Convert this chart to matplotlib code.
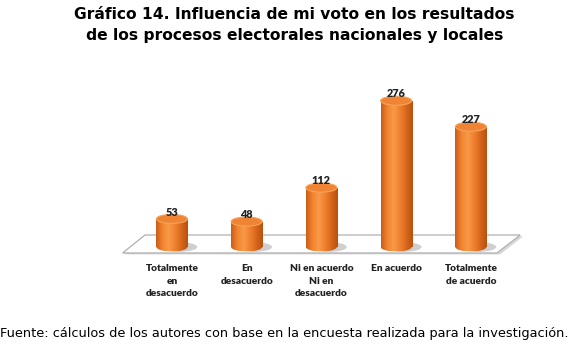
import numpy as np
import matplotlib.pyplot as plt
from matplotlib.patches import Ellipse, Polygon, Rectangle
from matplotlib.colors import LinearSegmentedColormap
import matplotlib.transforms as mtransforms

categories = ["Totalmente\nen\ndesacuerdo", "En\ndesacuerdo", "Ni en acuerdo\nNi en\ndesacuerdo",
              "En acuerdo", "Totalmente\nde acuerdo"]
values = [53, 48, 112, 276, 227]

title = "Gráfico 14. Influencia de mi voto en los resultados\nde los procesos electorales nacionales y locales"
source = "Fuente: cálculos de los autores con base en la encuesta realizada para la investigación."

fig = plt.figure(figsize=(5.8, 3.46), dpi=100)
ax = fig.add_axes([0, 0, 1, 1])
ax.set_xlim(-2.30, 5.46)
ax.set_ylim(-186.8, 466)
ax.axis("off")

# platform (floor)
shadow = Polygon([(-0.33, 20), (4.70, 20), (4.39, -14), (-0.63, -14)], closed=True,
                 facecolor="#d8d8d8", edgecolor="none", zorder=1)
ax.add_patch(shadow)
floor = Polygon([(-0.36, 22.6), (4.66, 22.6), (4.35, -11.3), (-0.66, -11.3)], closed=True,
                facecolor="white", edgecolor="#b0b0b0", lw=0.9, zorder=2)
ax.add_patch(floor)

cmap = LinearSegmentedColormap.from_list("cyl", ["#c95e17", "#f38430", "#f79a48", "#f08030", "#d6661b", "#b8520f"])
w = 0.415
eh = 17
grad = np.linspace(0, 1, 64).reshape(1, -1)

for i, v in enumerate(values):
    x0 = i - w / 2
    # soft shadow at the base
    ax.add_patch(Ellipse((i + 0.08, 0), w * 1.25, eh * 1.1, facecolor="#cfcfcf", edgecolor="none", zorder=3))
    body = Rectangle((x0, 0), w, v, facecolor="none", edgecolor="none", zorder=4)
    ax.add_patch(body)
    bottom = Ellipse((i, 0), w, eh, facecolor="none", edgecolor="none", zorder=4)
    ax.add_patch(bottom)
    im = ax.imshow(grad, cmap=cmap, aspect="auto", extent=(x0, x0 + w, -eh / 2, v), zorder=4)
    im.set_clip_path(body)
    im2 = ax.imshow(grad, cmap=cmap, aspect="auto", extent=(x0, x0 + w, -eh / 2, v), zorder=4)
    im2.set_clip_path(bottom)
    # top cap
    ax.add_patch(Ellipse((i, v), w, eh, facecolor="#ee8434", edgecolor="#f6a45a", lw=0.8, zorder=5))
    ax.text(i, v + 13, str(v), ha="center", va="center", fontsize=7.8, fontweight="heavy",
            family="Lato", color="#222222", zorder=6)

trans = mtransforms.blended_transform_factory(ax.transData, fig.transFigure)
for i, c in enumerate(categories):
    ax.text(i, 1 - 264 / 346, c, transform=trans, ha="center", va="top", fontsize=7.3,
            fontweight="heavy", family="Lato", color="#222222", linespacing=1.5)

fig.text(0.508, 0.98, title, ha="center", va="top", fontsize=11.2, fontweight="bold",
         family="DejaVu Sans", color="black", linespacing=1.5)
fig.text(0.0, 1 - 333 / 346, source, ha="left", va="center", fontsize=9.3,
         family="DejaVu Sans", color="black")

fig.savefig("out.png", dpi=100)
